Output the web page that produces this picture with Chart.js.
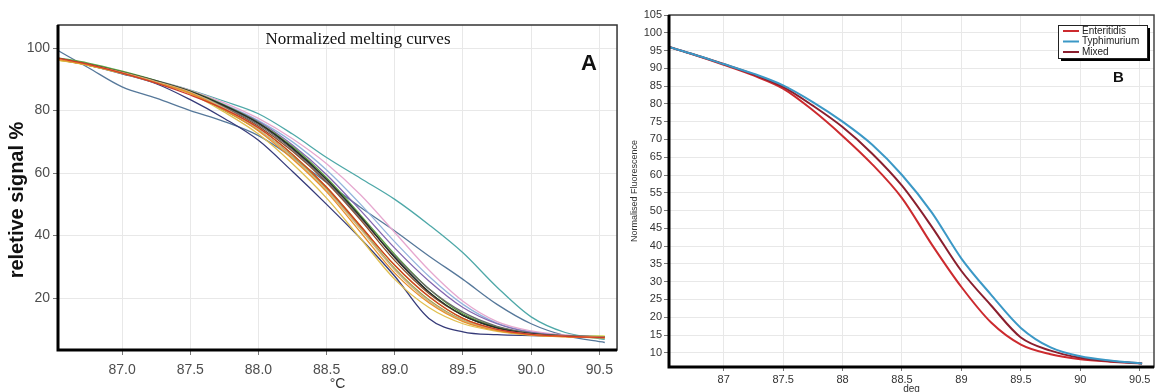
<!DOCTYPE html>
<html>
<head>
<meta charset="utf-8">
<script src="https://cdn.jsdelivr.net/npm/chart.js@4.4.0/dist/chart.umd.min.js"></script>
<style>
html,body{margin:0;padding:0;background:#fff;}
#wrapA{position:absolute;left:0;top:0;width:620px;height:392px;}
#wrapB{position:absolute;left:620px;top:0;width:544px;height:392px;}
</style>
</head>
<body>
<div id="wrapA"><canvas id="chartA"></canvas></div>
<div id="wrapB"><canvas id="chartB"></canvas></div>
<script>
// ---- panel A : normalized melting curves ----
const titleA = 'Normalized melting curves';
const yTitleA = 'reletive signal %';
const tempA = [86.53, 86.75, 87.0, 87.25, 87.5, 87.75, 88.0, 88.25, 88.5, 88.75, 89.0, 89.25, 89.5, 89.75, 90.0, 90.25, 90.54];
const xTicksA = [87.0, 87.5, 88.0, 88.5, 89.0, 89.5, 90.0, 90.5];
const yTicksA = [20, 40, 60, 80, 100];

const redA    = [96.8, 94.9, 92.0, 88.8, 85.0, 80.5, 74.5, 66.0, 55.5, 43.0, 30.5, 20.5, 13.5, 10.0, 8.4, 7.8, 7.4];
const orangeA = [96.4, 94.6, 92.1, 89.0, 85.6, 80.2, 73.5, 64.5, 54.0, 41.0, 28.0, 18.5, 12.5, 9.6, 8.2, 7.6, 7.3];
const goldA   = [96.2, 94.5, 91.9, 88.9, 85.4, 79.5, 72.5, 63.0, 52.0, 39.0, 26.0, 17.0, 11.8, 9.4, 8.2, 7.7, 7.4];
const tanA    = [96.5, 94.7, 92.2, 89.3, 85.9, 80.8, 74.0, 65.0, 54.5, 42.0, 29.0, 19.0, 12.8, 9.8, 8.4, 7.8, 7.5];
const blackA  = [96.6, 94.8, 92.3, 89.5, 86.2, 81.6, 76.0, 68.0, 58.0, 46.0, 33.0, 22.0, 14.5, 10.5, 8.6, 7.8, 7.4];
const grayA   = [96.4, 94.6, 92.1, 89.2, 86.0, 81.2, 75.5, 67.5, 57.5, 45.5, 33.5, 23.0, 15.5, 11.0, 8.8, 7.9, 7.5];
const greenA  = [96.9, 95.2, 92.6, 89.6, 86.3, 81.8, 76.2, 68.5, 58.5, 46.5, 34.0, 23.0, 15.0, 10.8, 8.7, 7.9, 7.6];
const dgreenA = [96.5, 94.8, 92.4, 89.4, 86.0, 81.5, 76.0, 68.0, 58.0, 46.0, 33.0, 22.0, 14.5, 10.5, 8.5, 7.9, 7.7];
const purpleA = [96.3, 94.6, 92.2, 89.3, 86.0, 81.7, 76.5, 69.0, 59.5, 48.0, 36.0, 25.5, 17.0, 11.8, 9.0, 8.0, 7.6];
const brownA  = [96.7, 94.9, 92.3, 89.2, 85.8, 81.0, 75.0, 67.0, 57.0, 45.0, 32.0, 21.5, 14.5, 10.6, 8.7, 8.0, 7.5];
const pinkA   = [96.5, 94.8, 92.4, 89.6, 86.5, 82.5, 77.5, 71.0, 63.0, 53.0, 41.0, 29.0, 19.0, 12.5, 9.5, 8.2, 7.6];
const lblueA  = [96.4, 94.7, 92.3, 89.5, 86.3, 82.0, 76.8, 70.0, 61.0, 50.0, 38.0, 27.0, 18.0, 12.0, 9.2, 8.1, 7.5];
const limeA   = [96.2, 94.5, 92.0, 89.0, 85.7, 80.5, 74.5, 66.0, 55.5, 43.0, 30.5, 20.5, 13.5, 10.0, 8.6, 8.0, 7.8];
const oliveA  = [96.6, 94.9, 92.2, 89.1, 85.5, 80.0, 73.8, 65.5, 55.0, 42.5, 29.5, 19.5, 13.0, 9.8, 8.4, 7.8, 7.4];
const navyA   = [96.5, 94.6, 91.8, 88.6, 83.5, 77.5, 70.5, 60.5, 50.0, 39.0, 27.0, 13.5, 9.2, 8.3, 8.0, 7.8, 7.6];
const steelA  = [99.2, 93.8, 87.6, 84.0, 80.0, 76.5, 72.0, 65.0, 57.0, 49.0, 41.5, 33.5, 26.0, 18.0, 11.8, 8.0, 5.8];
const tealA   = [96.3, 94.6, 92.2, 89.6, 86.6, 83.0, 79.0, 72.5, 65.0, 58.3, 51.6, 43.5, 34.5, 23.5, 14.0, 9.0, 6.8];

const seriesA = [redA, orangeA, goldA, tanA, blackA, grayA, greenA, dgreenA, purpleA, brownA, pinkA, lblueA, limeA, oliveA, navyA, steelA, tealA];
const colorsA = ['#d03a2a', '#e8902a', '#e0bf50', '#cdb386', '#2a2a2a', '#6a6a6a', '#5aa040', '#2f6e3e', '#8466b0', '#8c4c2c', '#e6a8cf', '#93b4dc', '#c9d200', '#a0a050', '#353a78', '#56789a', '#4ea8a8'];

// ---- panel B : three groups ----
const tempB = [86.54, 86.75, 87.0, 87.25, 87.5, 87.75, 88.0, 88.25, 88.5, 88.75, 89.0, 89.25, 89.5, 89.75, 90.0, 90.25, 90.52];
const xTicksB = [87, 87.5, 88, 88.5, 89, 89.5, 90, 90.5];
const yTicksB = [10, 15, 20, 25, 30, 35, 40, 45, 50, 55, 60, 65, 70, 75, 80, 85, 90, 95, 100, 105];
const labelsB = ['Enteritidis', 'Typhimurium', 'Mixed'];
const enteritidis = [96, 93.8, 91.0, 88.0, 84.3, 78.2, 71.0, 63.0, 53.5, 40.5, 28.5, 18.5, 12.3, 9.6, 8.2, 7.5, 7.0];
const typhimurium = [96, 93.9, 91.2, 88.5, 85.2, 80.5, 75.0, 68.5, 60.0, 49.5, 36.5, 26.3, 17.0, 11.5, 9.0, 7.8, 7.0];
const mixed       = [96, 93.9, 91.2, 88.3, 84.8, 79.5, 73.5, 66.0, 57.0, 45.5, 33.0, 23.3, 14.3, 10.6, 8.6, 7.6, 7.0];
const colorsB = ['#cc2a2e', '#3b98c6', '#8a1f2e'];

const sans = '"Liberation Sans", Arial, sans-serif';

function toPoints(xs, ys) {
    return ys.map((v, i) => ({x: xs[i], y: v}));
}

const frameA = {
    id: 'frameA',
    afterDraw(chart) {
        const {ctx, chartArea: a} = chart;
        ctx.save();
        ctx.strokeStyle = '#333';
        ctx.lineWidth = 1.5;
        ctx.strokeRect(a.left, a.top, a.right - a.left, a.bottom - a.top);
        ctx.strokeStyle = '#000';
        ctx.lineWidth = 3;
        ctx.beginPath();
        ctx.moveTo(a.left, a.top);
        ctx.lineTo(a.left, a.bottom);
        ctx.lineTo(a.right, a.bottom);
        ctx.stroke();
        ctx.fillStyle = '#111';
        ctx.textAlign = 'center';
        ctx.font = '17px "Liberation Serif", "Times New Roman", serif';
        ctx.fillText(titleA, 358, 44);
        ctx.font = 'bold 22px ' + sans;
        ctx.fillText('A', 589, 70);
        // y title, rotated
        ctx.translate(17, 200);
        ctx.rotate(-Math.PI / 2);
        ctx.textBaseline = 'middle';
        ctx.font = 'bold 20px ' + sans;
        ctx.fillText(yTitleA, 0, 0);
        ctx.restore();
    }
};

const frameB = {
    id: 'frameB',
    afterDraw(chart) {
        const {ctx, chartArea: a} = chart;
        ctx.save();
        ctx.strokeStyle = '#444';
        ctx.lineWidth = 1.5;
        ctx.strokeRect(a.left, a.top, a.right - a.left, a.bottom - a.top);
        ctx.strokeStyle = '#000';
        ctx.lineWidth = 3;
        ctx.beginPath();
        ctx.moveTo(a.left, a.top);
        ctx.lineTo(a.left, a.bottom);
        ctx.lineTo(a.right, a.bottom);
        ctx.stroke();
        // legend box with shadow
        const lx = 438, ly = 25, lw = 89, lh = 33;
        ctx.fillStyle = '#000';
        ctx.fillRect(lx + 3, ly + 3, lw, lh);
        ctx.fillStyle = '#fff';
        ctx.fillRect(lx, ly, lw, lh);
        ctx.strokeStyle = '#222';
        ctx.lineWidth = 1;
        ctx.strokeRect(lx + 0.5, ly + 0.5, lw, lh);
        ctx.font = '10px ' + sans;
        ctx.textBaseline = 'middle';
        ctx.textAlign = 'left';
        labelsB.forEach((t, i) => {
            const y = ly + 6 + i * 10.5;
            ctx.strokeStyle = colorsB[i];
            ctx.lineWidth = 2;
            ctx.beginPath();
            ctx.moveTo(lx + 5, y);
            ctx.lineTo(lx + 21, y);
            ctx.stroke();
            ctx.fillStyle = '#222';
            ctx.fillText(t, lx + 24, y);
        });
        ctx.font = 'bold 15px ' + sans;
        ctx.textAlign = 'center';
        ctx.fillStyle = '#111';
        ctx.fillText('B', 498.5, 78);
        ctx.restore();
    }
};

new Chart(document.getElementById('chartA'), {
    type: 'line',
    data: {
        datasets: seriesA.map((s, i) => ({
            data: toPoints(tempA, s),
            borderColor: colorsA[i],
            borderWidth: 1.3,
            pointRadius: 0,
            cubicInterpolationMode: 'monotone',
            fill: false
        }))
    },
    options: {
        responsive: true,
        maintainAspectRatio: false,
        animation: false,
        devicePixelRatio: 1,
        layout: {padding: {left: 0, right: 2, top: 25, bottom: 0}},
        plugins: {legend: {display: false}, tooltip: {enabled: false}},
        scales: {
            x: {
                type: 'linear',
                min: 86.53, max: 90.63,
                afterBuildTicks: s => { s.ticks = xTicksA.map(v => ({value: v})); },
                afterFit: s => { s.height = 42; },
                border: {display: false},
                grid: {color: '#e8e8e8', tickColor: '#777', tickLength: 5},
                ticks: {
                    padding: 7,
                    color: '#4d4d4d',
                    font: {size: 14, family: sans},
                    maxRotation: 0,
                    callback: v => Number(v).toFixed(1)
                },
                title: {display: true, text: '°C', color: '#333', font: {size: 14, family: sans}, padding: {top: 0, bottom: -1}}
            },
            y: {
                min: 3.4, max: 107.4,
                afterBuildTicks: s => { s.ticks = yTicksA.map(v => ({value: v})); },
                afterFit: s => { s.width = 58; },
                border: {display: false},
                grid: {color: '#e8e8e8', tickColor: '#777', tickLength: 5},
                ticks: {padding: 3, color: '#4d4d4d', font: {size: 14, family: sans}}
            }
        }
    },
    plugins: [frameA]
});

new Chart(document.getElementById('chartB'), {
    type: 'line',
    data: {
        datasets: [typhimurium, mixed, enteritidis].map((s, k) => {
            const i = [1, 2, 0][k];
            return {
                label: labelsB[i],
                data: toPoints(tempB, s),
                borderColor: colorsB[i],
                borderWidth: 2,
                pointRadius: 0,
                cubicInterpolationMode: 'monotone',
                fill: false
            };
        })
    },
    options: {
        responsive: true,
        maintainAspectRatio: false,
        animation: false,
        devicePixelRatio: 1,
        layout: {padding: {left: 0, right: 10, top: 15, bottom: 0}},
        plugins: {legend: {display: false}, tooltip: {enabled: false}},
        scales: {
            x: {
                type: 'linear',
                min: 86.54, max: 90.62,
                afterBuildTicks: s => { s.ticks = xTicksB.map(v => ({value: v})); },
                afterFit: s => { s.height = 25; },
                border: {display: false},
                grid: {color: '#e8e8e8', tickColor: '#777', tickLength: 4},
                ticks: {padding: 2, color: '#333', font: {size: 11, family: sans}, maxRotation: 0, callback: v => String(v)},
                title: {display: true, text: 'deg', color: '#333', font: {size: 10, family: sans}, padding: {top: 0, bottom: -3}}
            },
            y: {
                min: 6, max: 105,
                afterBuildTicks: s => { s.ticks = yTicksB.map(v => ({value: v})); },
                afterFit: s => { s.width = 49; },
                border: {display: false},
                grid: {color: '#e8e8e8', tickColor: '#777', tickLength: 5},
                ticks: {padding: 2, color: '#333', font: {size: 11, family: sans}},
                title: {display: true, text: 'Normalised Fluorescence', color: '#333', font: {size: 9, family: sans}, padding: {top: 9.6, bottom: 0}}
            }
        }
    },
    plugins: [frameB]
});
</script>
</body>
</html>
